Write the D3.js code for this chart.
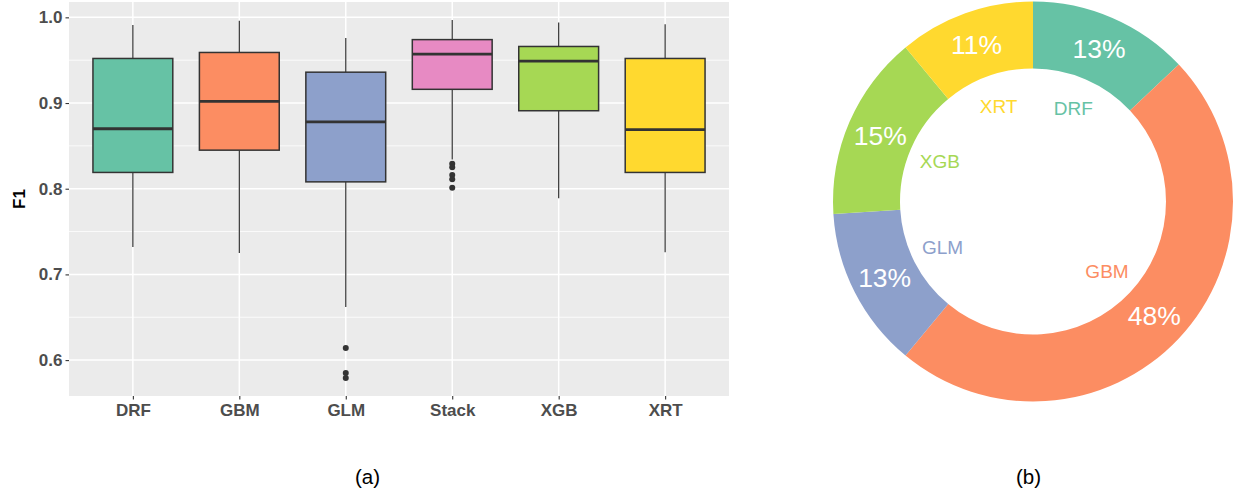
<!DOCTYPE html>
<html>
<head>
<meta charset="utf-8">
<script src="https://cdn.jsdelivr.net/npm/d3@7"></script>
<style>
  html, body { margin: 0; padding: 0; background: #ffffff; }
  svg { display: block; }
</style>
</head>
<body>
<svg id="chart" width="1237" height="496"></svg>
<script>
// ---- Data: F1 distribution per model (box plot) ----
const models = ["DRF", "GBM", "GLM", "Stack", "XGB", "XRT"];
const whiskerLow  = [0.732, 0.725, 0.662, 0.834, 0.789, 0.726];
const q1          = [0.819, 0.845, 0.808, 0.916, 0.891, 0.819];
const median      = [0.870, 0.902, 0.878, 0.957, 0.949, 0.869];
const q3          = [0.952, 0.959, 0.936, 0.974, 0.966, 0.952];
const whiskerHigh = [0.991, 0.996, 0.976, 0.997, 0.994, 0.992];
const outliers    = [[], [], [0.614, 0.585, 0.579], [0.829, 0.825, 0.816, 0.811, 0.801], [], []];
const yTicks = [0.6, 0.7, 0.8, 0.9, 1.0];
const yMinorTicks = [0.65, 0.75, 0.85, 0.95];

// ---- Data: share of best model (donut) ----
const shareNames  = ["DRF", "GBM", "GLM", "XGB", "XRT"];
const shareValues = [13, 48, 13, 15, 11];

const palette = {
  DRF: "#66c2a5", GBM: "#fc8d62", GLM: "#8da0cb",
  Stack: "#e78ac3", XGB: "#a6d854", XRT: "#ffd92f"
};

const svg = d3.select("#chart");

// ================= Box plot =================
const panel = { left: 69, right: 729, top: 2, bottom: 396 };

const allVals = whiskerLow.concat(whiskerHigh, outliers.flat());
const lo = d3.min(allVals), hi = d3.max(allVals), span = hi - lo;
const y = d3.scaleLinear()
  .domain([lo - 0.05 * span, hi + 0.05 * span])
  .range([panel.bottom, panel.top]);
const x = d3.scalePoint()
  .domain(models)
  .range([panel.left, panel.right])
  .padding(0.6);
const boxW = x.step() * 0.75;

const g = svg.append("g");

g.append("rect")
  .attr("x", panel.left).attr("y", panel.top)
  .attr("width", panel.right - panel.left)
  .attr("height", panel.bottom - panel.top)
  .attr("fill", "#ebebeb");

// minor grid
g.selectAll(".minor").data(yMinorTicks).join("line")
  .attr("x1", panel.left).attr("x2", panel.right)
  .attr("y1", d => y(d)).attr("y2", d => y(d))
  .attr("stroke", "#ffffff").attr("stroke-width", 0.8);
// major grid
g.selectAll(".major").data(yTicks).join("line")
  .attr("x1", panel.left).attr("x2", panel.right)
  .attr("y1", d => y(d)).attr("y2", d => y(d))
  .attr("stroke", "#ffffff").attr("stroke-width", 1.5);
g.selectAll(".vgrid").data(models).join("line")
  .attr("x1", d => x(d)).attr("x2", d => x(d))
  .attr("y1", panel.top).attr("y2", panel.bottom)
  .attr("stroke", "#ffffff").attr("stroke-width", 1.5);

// boxes
const boxes = g.selectAll(".box").data(models).join("g");
boxes.append("line")
  .attr("x1", d => x(d)).attr("x2", d => x(d))
  .attr("y1", (d, i) => y(whiskerHigh[i])).attr("y2", (d, i) => y(q3[i]))
  .attr("stroke", "#333333").attr("stroke-width", 1.2);
boxes.append("line")
  .attr("x1", d => x(d)).attr("x2", d => x(d))
  .attr("y1", (d, i) => y(q1[i])).attr("y2", (d, i) => y(whiskerLow[i]))
  .attr("stroke", "#333333").attr("stroke-width", 1.2);
boxes.append("rect")
  .attr("x", d => x(d) - boxW / 2)
  .attr("width", boxW)
  .attr("y", (d, i) => y(q3[i]))
  .attr("height", (d, i) => y(q1[i]) - y(q3[i]))
  .attr("fill", d => palette[d])
  .attr("stroke", "#333333").attr("stroke-width", 1.5);
boxes.append("line")
  .attr("x1", d => x(d) - boxW / 2).attr("x2", d => x(d) + boxW / 2)
  .attr("y1", (d, i) => y(median[i])).attr("y2", (d, i) => y(median[i]))
  .attr("stroke", "#333333").attr("stroke-width", 2.8);
boxes.each(function (d, i) {
  d3.select(this).selectAll("circle").data(outliers[i]).join("circle")
    .attr("cx", x(d)).attr("cy", v => y(v)).attr("r", 3)
    .attr("fill", "#333333");
});

// axes
const yAxis = d3.axisLeft(y).tickValues(yTicks)
  .tickFormat(d3.format(".1f")).tickSize(3.5).tickPadding(3);
const yAxisG = svg.append("g")
  .attr("transform", `translate(${panel.left},0)`).call(yAxis);
const xAxis = d3.axisBottom(x).tickSize(3.5).tickPadding(4.5);
const xAxisG = svg.append("g")
  .attr("transform", `translate(0,${panel.bottom})`).call(xAxis);
[yAxisG, xAxisG].forEach(a => {
  a.select(".domain").remove();
  a.selectAll(".tick line").attr("stroke", "#333333").attr("stroke-width", 1.1);
  a.selectAll(".tick text")
    .attr("fill", "#4d4d4d")
    .style("font-family", "'Liberation Sans', Arial, sans-serif")
    .style("font-weight", "bold")
    .style("font-size", "17px");
});

svg.append("text")
  .attr("transform", `translate(25,${(panel.top + panel.bottom) / 2}) rotate(-90)`)
  .attr("text-anchor", "middle")
  .style("font-family", "'Liberation Sans', Arial, sans-serif")
  .style("font-weight", "bold")
  .style("font-size", "17px")
  .attr("fill", "#000000")
  .text("F1");

// ================= Donut =================
const cx = 1033, cy = 201.5, rOuter = 200, rInner = 133, rName = 101.5;
const pie = d3.pie().sort(null).value(d => d)(shareValues);
const arc = d3.arc().innerRadius(rInner).outerRadius(rOuter);
const dg = svg.append("g").attr("transform", `translate(${cx},${cy})`);

dg.selectAll("path").data(pie).join("path")
  .attr("d", arc)
  .attr("fill", (d, i) => palette[shareNames[i]]);

dg.selectAll(".pct").data(pie).join("text")
  .attr("transform", d => `translate(${arc.centroid(d)})`)
  .attr("text-anchor", "middle")
  .attr("dy", "0.36em")
  .attr("fill", "#ffffff")
  .style("font-family", "'Liberation Sans', Arial, sans-serif")
  .style("font-size", "26.5px")
  .text(d => `${d.value}%`);

const nameArc = d3.arc().innerRadius(rName).outerRadius(rName);
dg.selectAll(".name").data(pie).join("text")
  .attr("transform", d => `translate(${nameArc.centroid(d)})`)
  .attr("text-anchor", "middle")
  .attr("dy", "0.36em")
  .attr("fill", (d, i) => palette[shareNames[i]])
  .style("font-family", "'Liberation Sans', Arial, sans-serif")
  .style("font-size", "19px")
  .text((d, i) => shareNames[i]);

// ================= Sub-captions =================
[["(a)", 367.5], ["(b)", 1028.5]].forEach(([t, px]) => {
  svg.append("text")
    .attr("x", px).attr("y", 484)
    .attr("text-anchor", "middle")
    .style("font-family", "'Liberation Sans', Arial, sans-serif")
    .style("font-size", "20.5px")
    .attr("fill", "#000000")
    .text(t);
});
</script>
</body>
</html>
